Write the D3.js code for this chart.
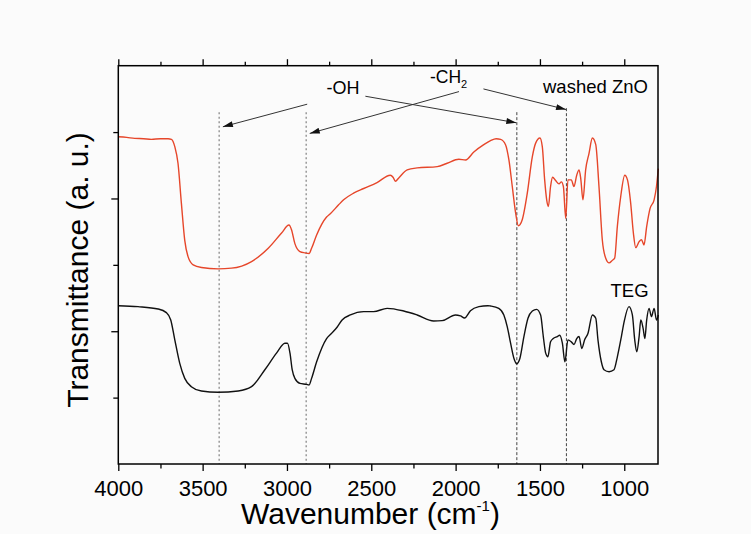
<!DOCTYPE html>
<html>
<head>
<meta charset="utf-8">
<script src="https://cdn.jsdelivr.net/npm/d3@7"></script>
<style>
  html, body { margin: 0; padding: 0; background: #fbfbfb; }
  svg { display: block; }
  text { font-family: "Liberation Sans", Arial, sans-serif; fill: #000; }
</style>
</head>
<body>
<svg id="chart" width="751" height="534"></svg>
<script>
// ---- data ----
const majorTicksX = [4000, 3500, 3000, 2500, 2000, 1500, 1000];
const minorTicksX = [3750, 3250, 2750, 2250, 1750, 1250];
const majorTicksY = [2, 4];
const minorTicksY = [1, 3, 5];

// washed ZnO spectrum: [wavenumber, transmittance (a.u.)]
const washedZnO = [
  [4000,4.93],[3950,4.92],[3903,4.905],[3850,4.90],[3804,4.89],[3750,4.90],[3705,4.90],[3685,4.89],
  [3665,4.78],[3646,4.53],[3626,3.93],[3606,3.37],[3586,3.12],[3556,3.0],[3507,2.96],[3408,2.94],
  [3329,2.95],[3210,3.05],[3111,3.25],[3032,3.48],[2988,3.60],[2973,3.53],[2953,3.32],[2923,3.20],
  [2893,3.18],[2869,3.17],[2854,3.25],[2824,3.45],[2765,3.72],[2743,3.77],[2695,3.90],[2664,3.98],
  [2605,4.08],[2545,4.15],[2466,4.24],[2387,4.35],[2371,4.32],[2357,4.26],[2337,4.31],[2287,4.43],
  [2228,4.46],[2109,4.48],[2050,4.53],[1981,4.59],[1941,4.58],[1892,4.70],[1833,4.81],[1793,4.87],
  [1760,4.90],[1733,4.89],[1704,4.81],[1684,4.58],[1664,4.18],[1644,3.78],[1628,3.59],[1605,3.68],
  [1575,4.08],[1545,4.63],[1526,4.83],[1500,4.91],[1486,4.78],[1472,4.28],[1460,3.98],[1450,3.88],
  [1437,4.18],[1425,4.32],[1407,4.27],[1387,4.22],[1373,4.25],[1361,4.18],[1347,3.70],[1334,4.28],
  [1314,4.28],[1298,4.18],[1282,4.35],[1268,4.43],[1258,4.30],[1245,3.98],[1229,4.43],[1209,4.68],
  [1189,4.91],[1169,4.81],[1150,4.18],[1130,3.37],[1110,3.10],[1090,3.03],[1070,3.07],[1057,3.10],
  [1041,3.58],[1021,4.03],[997,4.35],[981,4.28],[962,3.93],[946,3.48],[932,3.26],[912,3.35],
  [898,3.38],[883,3.30],[867,3.58],[847,3.85],[823,3.98],[809,4.18],[798,4.45]
];

// TEG spectrum
const teg = [
  [4000,2.385],[3883,2.37],[3764,2.335],[3715,2.28],[3689,2.17],[3665,1.87],[3636,1.52],[3606,1.29],
  [3567,1.165],[3507,1.10],[3408,1.08],[3289,1.10],[3210,1.165],[3131,1.42],[3062,1.67],[3012,1.82],
  [2997,1.82],[2982,1.67],[2969,1.42],[2953,1.29],[2923,1.215],[2884,1.20],[2869,1.19],[2854,1.29],
  [2824,1.54],[2765,1.89],[2735,1.97],[2703,2.06],[2673,2.17],[2624,2.245],[2545,2.295],[2486,2.295],
  [2406,2.345],[2308,2.305],[2228,2.245],[2130,2.155],[2080,2.16],[2001,2.245],[1971,2.23],[1947,2.20],
  [1912,2.31],[1862,2.37],[1809,2.385],[1793,2.38],[1744,2.345],[1714,2.245],[1694,2.07],[1674,1.82],
  [1654,1.59],[1638,1.51],[1619,1.59],[1595,1.92],[1571,2.195],[1545,2.305],[1520,2.33],[1496,2.245],
  [1480,1.92],[1466,1.67],[1453,1.615],[1437,1.84],[1421,1.89],[1397,1.92],[1383,1.94],[1367,1.82],
  [1352,1.54],[1334,1.87],[1314,1.84],[1298,1.80],[1282,1.89],[1268,1.92],[1252,1.74],[1235,1.87],
  [1215,1.97],[1189,2.245],[1169,2.195],[1156,1.87],[1136,1.54],[1120,1.42],[1090,1.39],[1061,1.42],
  [1041,1.615],[1017,1.92],[1001,2.14],[972,2.37],[952,2.245],[938,1.87],[926,1.69],[912,1.92],
  [902,2.17],[888,2.04],[878,1.89],[867,2.17],[853,2.345],[839,2.22],[823,2.345],[809,2.17],[798,2.245]
];

// marker lines (wavenumber) and annotation arrows [fromWn, fromT, toWn, toT]
const markerLinesGrey = [3402, 2886];
const markerLinesDark = [1637, 1343];
const ohArrows = [[2880, 5.42, 3380, 5.08], [2535, 5.54, 1640, 5.14]];
const ch2Arrows = [[1980, 5.61, 2865, 4.98], [1835, 5.65, 1345, 5.34]];

// ---- chart ----
const svg = d3.select("#chart");
const pL = 118.3, pR = 658, pT = 65.7, pB = 464;
const x = d3.scaleLinear().domain([4000, 800]).range([pL, pR]);
const y = d3.scaleLinear().domain([0, 6]).range([pB, pT]);

// vertical marker lines
svg.selectAll("line.mg").data(markerLinesGrey).enter().append("line")
  .attr("x1", d => x(d)).attr("x2", d => x(d))
  .attr("y1", y(5.3)).attr("y2", pB)
  .attr("stroke", "#8a8a8a").attr("stroke-width", 1.3).attr("stroke-dasharray", "2,2.5");
svg.selectAll("line.md").data(markerLinesDark).enter().append("line")
  .attr("x1", d => x(d)).attr("x2", d => x(d))
  .attr("y1", (d, i) => i === 0 ? y(5.3) : y(5.36)).attr("y2", pB)
  .attr("stroke", "#444").attr("stroke-width", 1).attr("stroke-dasharray", "3,2");

// curves
const line = d3.line().x(d => x(d[0])).y(d => y(d[1])).curve(d3.curveMonotoneX);
svg.append("path").datum(washedZnO).attr("d", line)
  .attr("fill", "none").attr("stroke", "#e6462a").attr("stroke-width", 1.4);
svg.append("path").datum(teg).attr("d", line)
  .attr("fill", "none").attr("stroke", "#111").attr("stroke-width", 1.4);

// arrows
const defs = svg.append("defs");
defs.append("marker").attr("id", "ah").attr("viewBox", "0 0 10 6")
  .attr("refX", 10).attr("refY", 3).attr("markerWidth", 12).attr("markerHeight", 6)
  .attr("markerUnits", "userSpaceOnUse").attr("orient", "auto")
  .append("path").attr("d", "M0,0 L10,3 L0,6 Z").attr("fill", "#111");
svg.selectAll("line.arr").data(ohArrows.concat(ch2Arrows)).enter().append("line")
  .attr("x1", d => x(d[0])).attr("y1", d => y(d[1]))
  .attr("x2", d => x(d[2])).attr("y2", d => y(d[3]))
  .attr("stroke", "#333").attr("stroke-width", 1).attr("marker-end", "url(#ah)");

// axes
const fontSize = 22;
const gB = svg.append("g").attr("transform", `translate(0,${pB})`);
gB.call(d3.axisBottom(x).tickValues(minorTicksX).tickSize(4.5).tickFormat(""));
gB.append("g").call(d3.axisBottom(x).tickValues(majorTicksX).tickSize(7).tickPadding(9).tickFormat(d3.format("d")));
const gT = svg.append("g").attr("transform", `translate(0,${pT})`);
gT.call(d3.axisTop(x).tickValues(minorTicksX).tickSize(4).tickFormat(""));
gT.append("g").call(d3.axisTop(x).tickValues(majorTicksX).tickSize(6.5).tickFormat(""));
const gL = svg.append("g").attr("transform", `translate(${pL},0)`);
gL.call(d3.axisLeft(y).tickValues(minorTicksY).tickSize(5).tickFormat(""));
gL.append("g").call(d3.axisLeft(y).tickValues(majorTicksY).tickSize(7).tickFormat(""));
svg.selectAll(".domain").remove();
svg.selectAll(".tick line").attr("stroke", "#000").attr("stroke-width", 1.3);
svg.selectAll(".tick text").style("font-size", fontSize + "px")
  .style("font-family", "'Liberation Sans', Arial, sans-serif").attr("fill", "#000");

// frame
svg.append("rect").attr("x", pL).attr("y", pT)
  .attr("width", pR - pL).attr("height", pB - pT)
  .attr("fill", "none").attr("stroke", "#000").attr("stroke-width", 1.5);

// axis titles
const xt = svg.append("text").attr("x", 241).attr("y", 523.5).style("font-size", "30px");
xt.append("tspan").text("Wavenumber (cm");
xt.append("tspan").text("-1").style("font-size", "15px").attr("dy", -13);
xt.append("tspan").text(")").attr("dy", 13);

svg.append("text").attr("transform", "translate(88,270) rotate(-90)")
  .attr("text-anchor", "middle").style("font-size", "30px").text("Transmittance (a. u.)");

// annotations
svg.append("text").attr("x", 326.5).attr("y", 94).style("font-size", "18px").text("-OH");
const ch = svg.append("text").attr("x", 430).attr("y", 82.7).style("font-size", "17.5px");
ch.append("tspan").text("-CH");
ch.append("tspan").text("2").style("font-size", "11px").attr("dy", 5);
svg.append("text").attr("x", 543).attr("y", 92.7).style("font-size", "18.5px").text("washed ZnO");
svg.append("text").attr("x", 610.5).attr("y", 297).style("font-size", "18.5px").text("TEG");
</script>
</body>
</html>
